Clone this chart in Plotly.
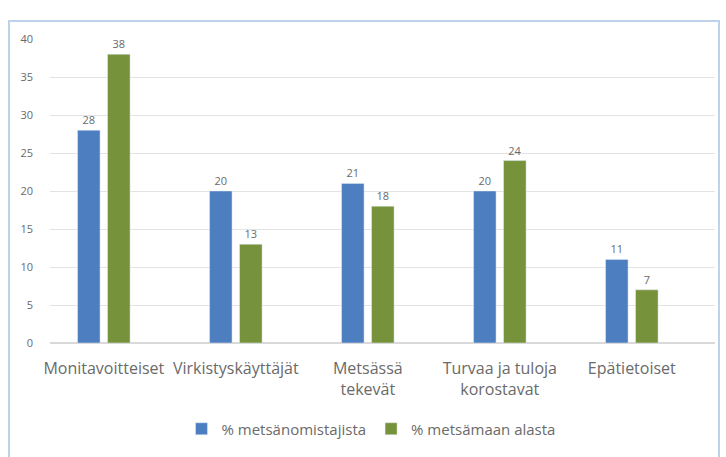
import plotly.graph_objects as go

categories = ["Monitavoitteiset", "Virkistyskäyttäjät", "Metsässä<br>tekevät",
              "Turvaa ja tuloja<br>korostavat", "Epätietoiset"]
series_names = ["% metsänomistajista", "% metsämaan alasta"]
owners = [28, 20, 21, 20, 11]
area = [38, 13, 18, 24, 7]
y_ticks = [0, 5, 10, 15, 20, 25, 30, 35, 40]

W, H = 726, 457
L, R, T, B = 50, 715, 39.3, 349.3  # plot area in pixels
pw, ph = R - L, B - T
CAT0, STEP = 103.8, 132.0  # first category centre and spacing (px)

def px(x):
    return (x - L) / pw

def py(y):
    return (B - y) / ph

blue = "#4d7ebf"
green = "#76923a"
txt = "#6a6a6a"
font_family = "'Open Sans', 'Noto Sans', sans-serif"

fig = go.Figure()
fig.add_trace(go.Bar(x=list(range(5)), y=owners, name=series_names[0],
                     marker_color=blue, text=owners, textposition="outside",
                     textfont=dict(size=11, color=txt, family=font_family),
                     cliponaxis=False))
fig.add_trace(go.Bar(x=list(range(5)), y=area, name=series_names[1],
                     marker_color=green, text=area, textposition="outside",
                     textfont=dict(size=11, color=txt, family=font_family),
                     cliponaxis=False))

# frame around chart
fig.add_shape(type="rect", xref="paper", yref="paper",
              x0=px(9), x1=px(719), y0=py(470), y1=py(21),
              line=dict(color="#bcd3ea", width=2), layer="below")

fig.update_layout(
    width=W, height=H,
    margin=dict(l=L, r=W - R, t=T, b=H - B, pad=0),
    paper_bgcolor="white", plot_bgcolor="white",
    barmode="group", bargap=0.545, bargroupgap=0.25,
    font=dict(family=font_family, color=txt, size=12),
    showlegend=True,
    legend=dict(orientation="h", x=px(371), xanchor="center", y=py(437), yanchor="middle",
                font=dict(size=15, color=txt, family=font_family),
                traceorder="normal"),
    xaxis=dict(tickmode="array", tickvals=list(range(5)), ticktext=categories,
               range=[(L - CAT0) / STEP, (R - CAT0) / STEP], showgrid=False, zeroline=False,
               showline=False, ticks="", ticklabelstandoff=14,
               tickfont=dict(size=16, color=txt, family=font_family)),
    yaxis=dict(range=[0, 40], tickvals=y_ticks, showgrid=True, gridcolor="#e3e3e3",
               gridwidth=1, zeroline=True, zerolinecolor="#d9d9d9", showline=False,
               ticks="", ticklabelstandoff=16,
               tickfont=dict(size=11, color=txt, family=font_family)),
)

fig.write_html("out.html", config={"displayModeBar": False},
               post_script="document.body.style.margin='0px';")
